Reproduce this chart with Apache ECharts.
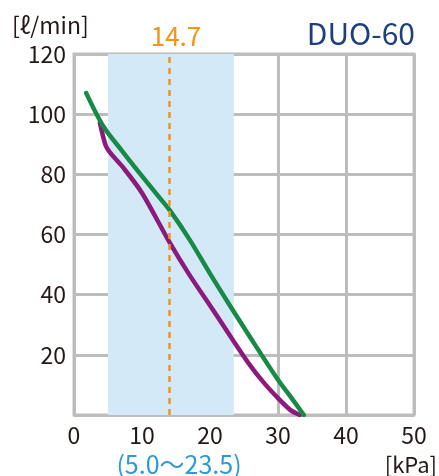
<!DOCTYPE html>
<html><head><meta charset="utf-8">
<script src="https://cdn.jsdelivr.net/npm/echarts@6/dist/echarts.min.js"></script>
<style>html,body{margin:0;padding:0;background:#fff}#c{width:439px;height:476px}</style>
</head><body><div id="c"></div>
<script>
const xTicks = [0, 10, 20, 30, 40, 50];
const yTicks = [0, 20, 40, 60, 80, 100, 120];
const greenX = [1.8, 4.3, 7, 9.8, 12.6, 14.1, 17, 20, 22.9, 26, 30, 32, 33.8];
const greenY = [107, 96, 88, 80, 72.2, 68, 58.3, 47, 36.5, 25.5, 11.7, 5.6, 0];
const purpleX = [3.8, 4.2, 4.7, 5.5, 7.25, 10, 14.1, 17, 20.1, 22.9, 25.9, 28, 30, 31.8, 33.2];
const purpleY = [97.2, 93.3, 89.4, 86.7, 82.2, 73.8, 57.2, 46.5, 36.1, 26.5, 16.5, 10.5, 5.6, 1.7, 0];
const rangeBand = [5.0, 23.5];
const markLabel = '14.7';
const markPos = 14.0;   // where the dashed line sits in the picture
const FONT = '"Noto Sans CJK JP","Noto Sans",sans-serif';

const chart = echarts.init(document.getElementById('c'));
chart.setOption({
  animation: false,
  grid: {left: 74, right: 25, top: 54, bottom: 61, show: true, borderColor: '#bdbdbd', borderWidth: 3, backgroundColor: 'transparent'},
  xAxis: {type: 'value', min: xTicks[0], max: xTicks[xTicks.length-1], interval: 10,
    axisLine: {show: false}, axisTick: {show: false},
    splitLine: {show: true, lineStyle: {color: '#bdbdbd', width: 3}},
    axisLabel: {color: '#231815', fontSize: 23, fontFamily: FONT, margin: 9}},
  yAxis: {type: 'value', min: yTicks[0], max: yTicks[yTicks.length-1], interval: 20,
    axisLine: {show: false}, axisTick: {show: false},
    splitLine: {show: true, lineStyle: {color: '#bdbdbd', width: 3}},
    axisLabel: {color: '#231815', fontSize: 23, fontFamily: FONT, margin: 8,
      formatter: v => v === 0 ? '' : String(v)}},
  series: [
    {type: 'line', data: [], z: 1,
      markArea: {silent: true, itemStyle: {color: '#d3e9f7'}, data: [[{xAxis: rangeBand[0]}, {xAxis: rangeBand[1]}]]},
      markLine: {silent: true, symbol: 'none',
        lineStyle: {color: '#f0931f', type: [6, 5], width: 2.5},
        label: {show: false},
        data: [{xAxis: markPos}]}},
    {type: 'line', smooth: 0.3, showSymbol: false, z: 3,
      lineStyle: {color: '#178a48', width: 4.5, cap: 'round', join: 'round'},
      data: greenX.map((x, i) => [x, greenY[i]])},
    {type: 'line', smooth: 0.3, showSymbol: false, z: 2,
      lineStyle: {color: '#8c1a7c', width: 4.5, cap: 'round', join: 'round'},
      data: purpleX.map((x, i) => [x, purpleY[i]])}
  ],
  graphic: [
    {type: 'text', x: 12, y: 25.5, style: {text: '[ℓ/min]', fill: '#231815', font: '23px ' + FONT, textAlign: 'left', textVerticalAlign: 'middle'}},
    {type: 'text', x: 176, y: 36, style: {text: markLabel, fill: '#f0931f', font: '26px ' + FONT, textAlign: 'center', textVerticalAlign: 'middle'}},
    {type: 'text', x: 415, y: 33.5, style: {text: 'DUO-60', fill: '#1d3f7d', font: '30px ' + FONT, textAlign: 'right', textVerticalAlign: 'middle'}},
    {type: 'text', x: 179, y: 464, style: {text: '(5.0〜23.5)', fill: '#2b9ad6', font: '25px ' + FONT, textAlign: 'center', textVerticalAlign: 'middle'}},
    {type: 'text', x: 437, y: 465, style: {text: '[kPa]', fill: '#231815', font: '22px ' + FONT, textAlign: 'right', textVerticalAlign: 'middle'}}
  ]
});
</script></body></html>
